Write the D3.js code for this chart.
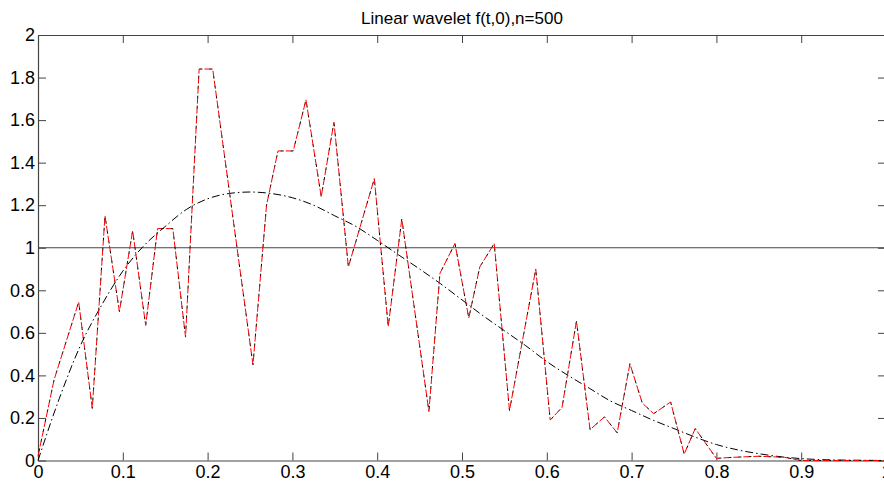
<!DOCTYPE html>
<html>
<head>
<meta charset="utf-8">
<script src="https://cdn.jsdelivr.net/npm/d3@7"></script>
<style>
  body { margin: 0; background: #fff; }
  svg { display: block; font-family: Arial, "Liberation Sans", sans-serif; }
</style>
</head>
<body>
<svg id="chart" width="884" height="484"></svg>
<script>
// estimate (red dashed) vertices
const estT = [0, 0.019, 0.048, 0.064, 0.079, 0.096, 0.1116, 0.127, 0.141, 0.159,
  0.174, 0.19, 0.206, 0.2535, 0.2695, 0.283, 0.301, 0.316, 0.334, 0.349, 0.366,
  0.3966, 0.413, 0.429, 0.461, 0.474, 0.4917, 0.508, 0.521, 0.538, 0.556, 0.587,
  0.604, 0.618, 0.635, 0.651, 0.668, 0.683, 0.698, 0.7126, 0.726, 0.746, 0.762,
  0.775, 0.80, 0.82, 0.85, 0.88, 0.9, 1.0];
const estV = [0.02, 0.38, 0.745, 0.245, 1.15, 0.70, 1.08, 0.635, 1.09, 1.09,
  0.58, 1.84, 1.84, 0.45, 1.2, 1.455, 1.455, 1.695, 1.24, 1.59, 0.91,
  1.325, 0.63, 1.135, 0.23, 0.88, 1.02, 0.67, 0.91, 1.02, 0.235, 0.90,
  0.19, 0.25, 0.655, 0.145, 0.205, 0.13, 0.455, 0.27, 0.22, 0.275, 0.03,
  0.15, 0.01, 0.015, 0.02, 0.015, 0.0, 0.0];

// true density (black dash-dot)
const trueT = [0, 0.025, 0.05, 0.075, 0.1, 0.125, 0.15, 0.175, 0.2, 0.225, 0.25,
  0.275, 0.3, 0.325, 0.35, 0.375, 0.4, 0.425, 0.45, 0.475, 0.5, 0.525, 0.55,
  0.575, 0.6, 0.625, 0.65, 0.675, 0.7, 0.725, 0.75, 0.775, 0.8, 0.825, 0.85,
  0.875, 0.9, 0.925, 0.95, 0.975, 1.0];
const trueV = [0, 0.29, 0.54, 0.73, 0.89, 1.01, 1.10, 1.18, 1.23, 1.255, 1.262,
  1.255, 1.235, 1.2, 1.15, 1.10, 1.035, 0.967, 0.9, 0.83, 0.755, 0.68, 0.61,
  0.54, 0.465, 0.40, 0.34, 0.28, 0.235, 0.19, 0.15, 0.11, 0.075, 0.05, 0.032,
  0.018, 0.009, 0.004, 0.002, 0.001, 0];

const xTicks = [0, 0.1, 0.2, 0.3, 0.4, 0.5, 0.6, 0.7, 0.8, 0.9, 1];
const yTicks = [0, 0.2, 0.4, 0.6, 0.8, 1, 1.2, 1.4, 1.6, 1.8, 2];
const title = "Linear wavelet f(t,0),n=500";

const svg = d3.select("#chart");
const plotLeft = 38, plotRight = 886, plotTop = 35, plotBottom = 460.5;

const x = d3.scaleLinear().domain([0, 1]).range([plotLeft, plotRight]);
const y = d3.scaleLinear().domain([0, 2]).range([plotBottom, plotTop]);

const fmt = d => d3.format("~g")(d);
const axisColor = "#444";

// frame with inward ticks on all four sides
function styleAxis(g) {
  g.select(".domain").attr("stroke", axisColor).attr("stroke-width", 1.2);
  g.selectAll(".tick line").attr("stroke", axisColor);
  g.selectAll(".tick text").attr("fill", "#000").attr("font-size", 18)
    .attr("font-family", "Arial, 'Liberation Sans', sans-serif");
}

svg.append("g")
  .attr("transform", "translate(0," + plotBottom + ")")
  .call(d3.axisBottom(x).tickValues(xTicks).tickFormat(fmt).tickSizeInner(-8).tickSizeOuter(0).tickPadding(5))
  .call(styleAxis)
  .selectAll(".tick text").attr("dy", "0.71em");

svg.append("g")
  .attr("transform", "translate(0," + plotTop + ")")
  .call(d3.axisTop(x).tickValues(xTicks).tickFormat("").tickSizeInner(-8).tickSizeOuter(0))
  .call(styleAxis);

svg.append("g")
  .attr("transform", "translate(" + plotLeft + ",0)")
  .call(d3.axisLeft(y).tickValues(yTicks).tickFormat(fmt).tickSizeInner(-8).tickSizeOuter(0).tickPadding(3))
  .call(styleAxis);

svg.append("g")
  .attr("transform", "translate(" + plotRight + ",0)")
  .call(d3.axisRight(y).tickValues(yTicks).tickFormat("").tickSizeInner(-8).tickSizeOuter(0))
  .call(styleAxis);

// reference line at 1
svg.append("line")
  .attr("x1", x(0)).attr("x2", x(1))
  .attr("y1", y(1)).attr("y2", y(1))
  .attr("stroke", axisColor).attr("stroke-width", 1.2);

const trueData = trueT.map((t, i) => [t, trueV[i]]);
const estData = estT.map((t, i) => [t, estV[i]]);

svg.append("path")
  .datum(trueData)
  .attr("fill", "none")
  .attr("stroke", "#000")
  .attr("stroke-width", 1)
  .attr("stroke-dasharray", "8,3,1.5,3")
  .attr("d", d3.line().x(d => x(d[0])).y(d => y(d[1])).curve(d3.curveMonotoneX));

// black dashed estimate underneath, red dashed on top
const estLine = d3.line().x(d => x(d[0])).y(d => y(d[1]));

svg.append("path")
  .datum(estData)
  .attr("fill", "none")
  .attr("stroke", "#000")
  .attr("stroke-width", 1)
  .attr("stroke-dasharray", "3,7")
  .attr("stroke-dashoffset", 5)
  .attr("d", estLine);

svg.append("path")
  .datum(estData)
  .attr("fill", "none")
  .attr("stroke", "#ff0000")
  .attr("stroke-width", 1)
  .attr("stroke-dasharray", "6,4")
  .attr("d", estLine);

svg.append("text")
  .attr("x", (plotLeft + plotRight) / 2)
  .attr("y", 24)
  .attr("text-anchor", "middle")
  .attr("font-size", 17)
  .attr("fill", "#000")
  .text(title);
</script>
</body>
</html>
